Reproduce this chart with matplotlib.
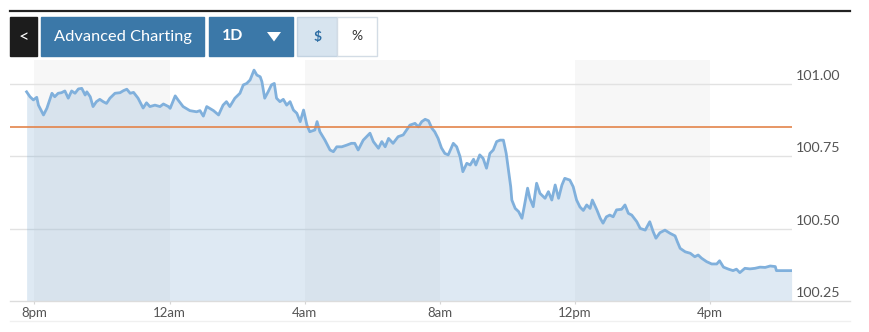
import matplotlib.pyplot as plt
from matplotlib.patches import Rectangle, Polygon
from matplotlib.lines import Line2D
from matplotlib.transforms import offset_copy

plt.rcParams['font.family'] = ['Lato', 'DejaVu Sans']

# 时间：距离晚上8点的分钟数；价格
minutes = [-14, -8, -2, 4, 7, 16, 22, 31, 36, 42, 48, 54, 60, 66, 72, 78, 84, 90, 93, 99,
           104, 110, 116, 122, 128, 134, 143, 152, 158, 164, 170, 176, 184, 193, 199, 205, 214, 223, 229, 238,
           241, 250, 255, 264, 276, 288, 294, 300, 306, 318, 327, 335, 341, 347, 356, 365, 371, 377, 383, 390,
           395, 401, 404, 409, 415, 421, 426, 430, 436, 442, 448, 454, 460, 466, 472, 478, 484,
           489, 498, 502, 507, 516, 525, 531, 537, 546, 555, 563, 569, 575, 584, 596, 602, 611, 617, 623,
           629, 637, 646, 655, 661, 667, 676, 682, 688, 694, 700, 706, 711, 717, 723, 729,
           735, 744, 750, 756, 761, 768, 774, 780, 784, 791, 797, 803, 809, 815, 821, 827, 833, 838, 842,
           846, 848, 854, 860, 866, 870, 876, 880, 886, 892, 898, 907, 913, 919, 925, 931, 937, 942, 951,
           957, 963, 969, 975,
           981, 987, 991, 999, 1005, 1010, 1016, 1022, 1028, 1034, 1043, 1049, 1055, 1061, 1070, 1076, 1085,
           1093, 1099, 1104, 1111, 1120, 1129, 1138, 1142, 1147, 1156, 1165, 1173, 1179, 1185, 1194, 1203,
           1212, 1217, 1224,
           1233, 1241, 1247, 1253, 1262, 1271, 1280, 1289, 1298, 1307, 1316, 1318, 1345]
prices = [100.973, 100.956, 100.945, 100.954, 100.927, 100.893, 100.916, 100.968, 100.956, 100.968,
          100.970, 100.976, 100.951, 100.976, 100.968, 100.983, 100.985, 100.962, 100.973, 100.956,
          100.922, 100.939, 100.947, 100.939, 100.933, 100.951, 100.968, 100.970, 100.977, 100.982,
          100.968, 100.971, 100.951, 100.917, 100.935, 100.922, 100.927, 100.922, 100.931, 100.922,
          100.916, 100.959, 100.945, 100.922, 100.908, 100.904, 100.908, 100.889, 100.922, 100.908,
          100.893, 100.927, 100.939, 100.922, 100.951, 100.968, 100.997, 101.002, 101.014, 101.048,
          101.031, 101.025, 101.008, 100.951, 100.973, 100.997, 101.002, 100.951, 100.939, 100.947,
          100.927, 100.939, 100.910, 100.899, 100.870, 100.910, 100.858,
          100.835, 100.841, 100.870, 100.835, 100.806, 100.772, 100.766, 100.783, 100.783, 100.789,
          100.795, 100.795, 100.772, 100.806, 100.830, 100.801, 100.778, 100.801, 100.783,
          100.812, 100.795, 100.818, 100.824, 100.841, 100.858, 100.864, 100.852, 100.870, 100.878,
          100.873, 100.847, 100.835, 100.812, 100.779, 100.760,
          100.755, 100.795, 100.783, 100.749, 100.697, 100.726, 100.720, 100.740, 100.720, 100.755,
          100.743, 100.709, 100.760, 100.772, 100.801, 100.806, 100.806, 100.760, 100.703,
          100.645, 100.599, 100.570, 100.559, 100.536, 100.576, 100.640, 100.605, 100.576, 100.657,
          100.622, 100.605, 100.628, 100.599, 100.651, 100.605, 100.651, 100.674, 100.668,
          100.645, 100.599, 100.575, 100.563,
          100.582, 100.570, 100.599, 100.565, 100.536, 100.519, 100.541, 100.547, 100.541, 100.565,
          100.567, 100.582, 100.553, 100.547, 100.524, 100.501, 100.495,
          100.524, 100.490, 100.467, 100.486, 100.495, 100.484, 100.475, 100.455, 100.432, 100.420,
          100.415, 100.403, 100.409, 100.398, 100.386, 100.378,
          100.378, 100.389, 100.367,
          100.360, 100.355, 100.360, 100.348, 100.363, 100.361, 100.363, 100.367, 100.366, 100.371,
          100.369, 100.355, 100.355]

prev_close = 100.851
y_ticks = [100.25, 100.50, 100.75, 101.00]
y_labels = ['100.25', '100.50', '100.75', '101.00']
x_ticks = [0, 240, 480, 720, 960, 1200]
x_labels = ['8pm', '12am', '4am', '8am', '12pm', '4pm']
bands = [(0, 240), (480, 720), (960, 1200)]

W, H = 870, 332
fig = plt.figure(figsize=(W / 100, H / 100), dpi=100)


def fx(x):
    return x / W


def fy(y):
    return 1 - y / H


ax = fig.add_axes([fx(10), fy(301), fx(792) - fx(10), fy(60) - fy(301)])
ax.set_xlim(-43.5, 1345.7)
ax.set_ylim(100.25, 101.083)

# 背景灰色条带
for a, b in bands:
    ax.axvspan(a, b, color='#f7f7f7', lw=0, zorder=0)

# 网格线
for v in y_ticks[1:]:
    ax.axhline(v, color='#e2e2e2', lw=1, zorder=1)

ax.fill_between(minutes, prices, 100.25, color='#6a9fcc', alpha=0.22, lw=0, zorder=2)
ax.plot(minutes, prices, color='#80b0dc', lw=2.0, zorder=3, solid_joinstyle='round')
ax.axhline(prev_close, color='#e3844a', lw=1.2, zorder=4)

for s in ax.spines.values():
    s.set_visible(False)
ax.set_yticks([])
ax.set_xticks(x_ticks, x_labels)
ax.tick_params(axis='x', length=2.5, color='#d5d5d5', labelcolor='#555555',
               labelsize=9.5, pad=2)

# 右侧价格标签
tr = offset_copy(ax.get_yaxis_transform(), fig=fig, x=4, y=8, units='dots')
for v, lab in zip(y_ticks, y_labels):
    ax.text(1.0, v, lab, transform=tr, ha='left', va='center', fontsize=10.3,
            color='#555555', clip_on=False)

# 底部轴线
fig.add_artist(Line2D([fx(10), fx(850)], [fy(301), fy(301)], color='#dcdcdc', lw=1))
fig.add_artist(Line2D([fx(10), fx(850)], [fy(320.5), fy(320.5)], color='#f0f0f0', lw=1))
# 顶部黑线
fig.add_artist(Line2D([fx(10), fx(850)], [fy(11), fy(11)], color='#222222', lw=1.6))


def box(x0, x1, face, edge=None):
    fig.add_artist(Rectangle((fx(x0), fy(56)), fx(x1) - fx(x0), fy(17) - fy(56),
                             transform=fig.transFigure, facecolor=face,
                             edgecolor=edge if edge else face, lw=1))


box(10, 37, '#1c1c1c')
box(41, 204, '#3b78a8')
box(209, 293, '#3b78a8')
box(297, 337, '#d7e4ef', '#c3d3e1')
box(337, 377, '#ffffff', '#d3dce5')

fig.text(fx(23.5), fy(37), '<', color='white', fontsize=13,
         ha='center', va='center')
fig.text(fx(122.5), fy(36.5), 'Advanced Charting', color='white', fontsize=11.8,
         ha='center', va='center')
fig.text(fx(233), fy(36.5), '1D', color='white', fontsize=11.5, fontweight='bold',
         ha='center', va='center')
fig.add_artist(Polygon([(fx(267), fy(32)), (fx(281), fy(32)), (fx(274), fy(41.5))],
                       closed=True, transform=fig.transFigure, facecolor='white', lw=0))
fig.text(fx(317.5), fy(36.5), '$', color='#2e6ea4', fontsize=10, fontweight='bold',
         ha='center', va='center')
fig.text(fx(357), fy(36.5), '%', color='#333333', fontsize=10,
         ha='center', va='center')

fig.savefig('out.png', dpi=100)
